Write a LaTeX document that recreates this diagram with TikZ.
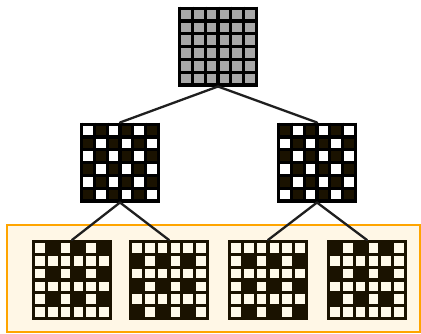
\documentclass[tikz,border=0pt]{standalone}
\usetikzlibrary{calc}
\definecolor{cellblack}{HTML}{1A1200}
\definecolor{cellgrey}{HTML}{A8A8A8}
\definecolor{cellcream}{HTML}{FFFAEA}
\definecolor{panelfill}{HTML}{FFF7E6}
\definecolor{panelborder}{HTML}{FFA500}
\tikzset{
  gridnode/.style={minimum size=80pt, inner sep=0pt, outer sep=0pt, draw=none},
  gridline/.style={line width=3.2pt, draw=#1},
  edge/.style={line width=2.3pt, draw=black!88, line cap=round},
  panel/.style={fill=panelfill, draw=panelborder, line width=2.2pt}
}
\def\pitch{12.8}
% #1 name, #2 x, #3 y, #4 black rule, #5 light colour, #6 line colour
\newcommand\drawcellgrid[6]{%
  \node[gridnode] (#1) at (#2,#3) {};
  \begin{scope}[shift={(#1.north west)}, shift={(1.6,1.6)}]
    \foreach \ri in {0,...,5}{
      \foreach \ci in {0,...,5}{
        \pgfmathtruncatemacro\isb{#4}
        \ifnum\isb=1 \def\cc{cellblack}\else\def\cc{#5}\fi
        \fill[\cc] (\ci*\pitch,\ri*\pitch) rectangle ({(\ci+1)*\pitch},{(\ri+1)*\pitch});
      }
    }
    \foreach \i in {0,...,6}{
      \draw[gridline=#6] (\i*\pitch,-1.6) -- (\i*\pitch,6*\pitch+1.6);
      \draw[gridline=#6] (-1.6,\i*\pitch) -- (6*\pitch+1.6,\i*\pitch);
    }
  \end{scope}
}
\begin{document}
\begin{tikzpicture}[x=1pt,y=-1pt]
\useasboundingbox (0,0) rectangle (421,333);
\fill[white] (0,0) rectangle (421,333);
\draw[panel] (7,225) rectangle (420.5,332);

\drawcellgrid{top}{218}{46.5}{0}{cellgrey}{black}
\drawcellgrid{ml}{120}{162.5}{mod(\ri+\ci,2)}{white}{black}
\drawcellgrid{mr}{317}{162.5}{1-mod(\ri+\ci,2)}{white}{black}
\drawcellgrid{b1}{72}{280}{(1-mod(\ri,2))*mod(\ci,2)}{cellcream}{cellblack}
\drawcellgrid{b2}{169}{280}{mod(\ri,2)*(1-mod(\ci,2))}{cellcream}{cellblack}
\drawcellgrid{b3}{268}{280}{mod(\ri,2)*mod(\ci,2)}{cellcream}{cellblack}
\drawcellgrid{b4}{367}{280}{(1-mod(\ri,2))*(1-mod(\ci,2))}{cellcream}{cellblack}

\draw[edge] (top.south) -- (ml.north);
\draw[edge] (top.south) -- (mr.north);
\draw[edge] (ml.south) -- (b1.north);
\draw[edge] (ml.south) -- (b2.north);
\draw[edge] (mr.south) -- (b3.north);
\draw[edge] (mr.south) -- (b4.north);
\end{tikzpicture}
\end{document}
